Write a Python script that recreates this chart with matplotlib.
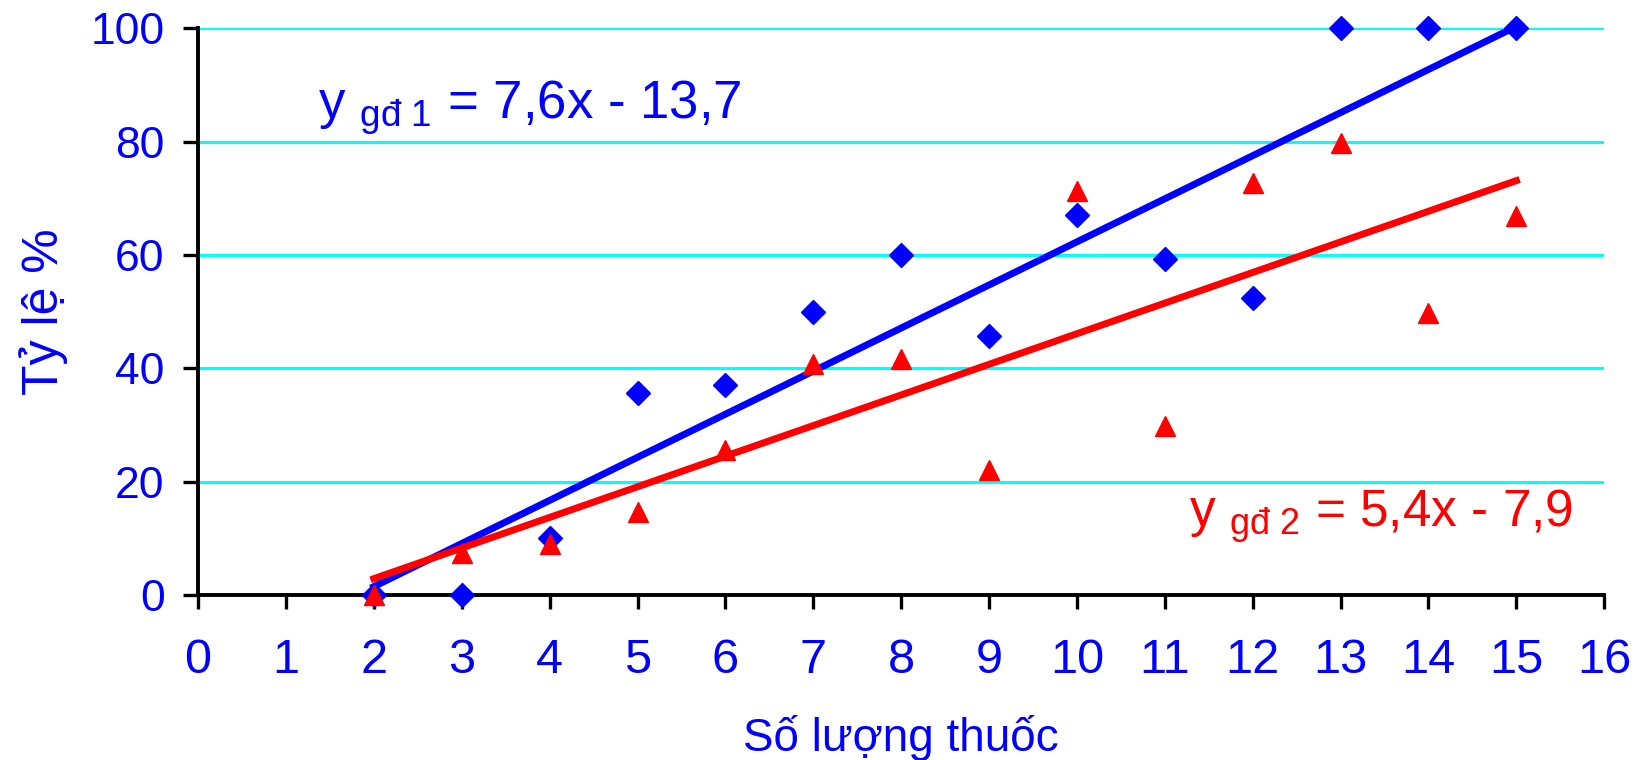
import matplotlib
matplotlib.use('Agg')
from matplotlib import pyplot as plt
import numpy as np

plt.rcParams['font.family'] = ['Liberation Sans', 'DejaVu Sans']
plt.rcParams['mathtext.fontset'] = 'custom'
plt.rcParams['mathtext.rm'] = 'Liberation Sans'
plt.rcParams['mathtext.it'] = 'Liberation Sans'

x_vals = [2, 3, 4, 5, 6, 7, 8, 9, 10, 11, 12, 13, 14, 15]
gd1 = [0, 0, 10, 35.7, 37, 50, 60, 45.7, 67, 59.2, 52.4, 100, 100, 100]
gd2 = [0, 7.4, 9, 14.7, 25.6, 40.7, 41.6, 22.1, 71.3, 29.8, 72.6, 79.7, 49.7, 66.9]

# trend line coefficients (slope, intercept) as printed on the chart
fit1 = (7.6, -13.7)
fit2 = (5.4, -7.9)

BLUE = '#0000FF'
RED = '#FF0000'

fig = plt.figure(figsize=(16.37, 7.6), dpi=100)
ax = fig.add_axes([0.121, 0.217, 0.859, 0.746])

for yv in [20, 40, 60, 80, 100]:
    ax.axhline(yv, color='#00FFFF', linewidth=2.2, zorder=0)

xs = np.array([x_vals[0], x_vals[-1]], dtype=float)
ax.plot(xs, fit1[0]*xs + fit1[1], color=BLUE, linewidth=5, zorder=2)
ax.plot(xs, fit2[0]*xs + fit2[1], color=RED, linewidth=5, zorder=2)

ax.plot(x_vals, gd1, 'D', color=BLUE, markersize=12, zorder=3, clip_on=False)
ax.plot(x_vals, gd2, '^', color=RED, markersize=14, zorder=3, clip_on=False)

ax.set_xlim(0, 16)
ax.set_ylim(0, 100)
ax.set_xticks(range(0, 17))
ax.set_yticks(range(0, 101, 20))

for s in ['top', 'right']:
    ax.spines[s].set_visible(False)
for s in ['left', 'bottom']:
    ax.spines[s].set_linewidth(2.8)
    ax.spines[s].set_color('black')

ax.tick_params(axis='x', direction='out', length=10, width=2.4, pad=21,
               labelsize=35, labelcolor=BLUE)
ax.tick_params(axis='y', direction='out', length=11, width=2.4, pad=13,
               labelsize=32, labelcolor=BLUE)

ax.set_xlabel('Số lượng thuốc', fontsize=33, color=BLUE, labelpad=23)
ax.set_ylabel('Tỷ lệ %', fontsize=36, color=BLUE, labelpad=16)

ax.text(1.37, 84, r'y $_{\mathrm{gđ\ 1}}$ = 7,6x - 13,7', color=BLUE, fontsize=38,
        va='baseline', ha='left')
ax.text(11.27, 12, r'y $_{\mathrm{gđ\ 2}}$ = 5,4x - 7,9', color=RED, fontsize=37,
        va='baseline', ha='left')

fig.savefig('out.png', dpi=100)
